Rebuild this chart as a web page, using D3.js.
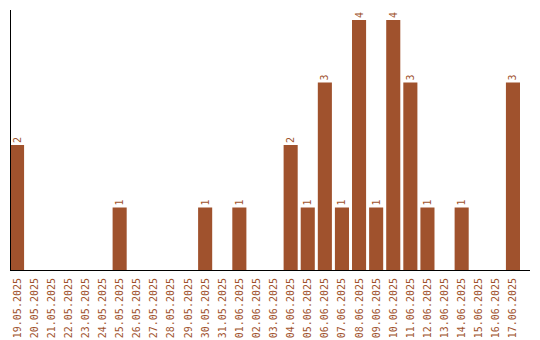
<!DOCTYPE html>
<html>
 <head>
  <meta charset="utf-8">
  <script src="https://d3js.org/d3.v7.min.js"></script>
  <style>
   body { margin: 0; background: #fff; }
   text { font-family: "DejaVu Sans Mono", monospace; font-size: 10px; fill: #a0522d; }
  </style>
 </head>
 <body>
  <div id="chart"></div>
  <script type="text/javascript">
   // dates and counts
   var days = ["19.05.2025","20.05.2025","21.05.2025","22.05.2025","23.05.2025","24.05.2025",
               "25.05.2025","26.05.2025","27.05.2025","28.05.2025","29.05.2025","30.05.2025",
               "31.05.2025","01.06.2025","02.06.2025","03.06.2025","04.06.2025","05.06.2025",
               "06.06.2025","07.06.2025","08.06.2025","09.06.2025","10.06.2025","11.06.2025",
               "12.06.2025","13.06.2025","14.06.2025","15.06.2025","16.06.2025","17.06.2025"];
   var counts = [2,0,0,0,0,0, 1,0,0,0,0,1, 0,1,0,0,2,1, 3,1,4,1,4,3, 1,0,1,0,0,3];

   var svg = d3.select("#chart").append("svg")
     .attr("width", 540).attr("height", 340);

   var x = d3.scaleBand().domain(days).range([10, 520]).paddingInner(3/17).paddingOuter(0).align(0);
   var y = d3.scaleLinear().domain([0, 4]).range([270, 20]);

   var data = days.map(function (d, i) { return {day: d, n: counts[i]}; });

   svg.selectAll("rect.bar")
     .data(data.filter(function (d) { return d.n > 0; }))
     .enter().append("rect")
       .attr("class", "bar")
       .attr("x", function (d) { return x(d.day); })
       .attr("width", x.bandwidth())
       .attr("y", function (d) { return y(d.n); })
       .attr("height", function (d) { return y(0) - y(d.n); })
       .attr("fill", "#a0522d");

   // value labels above bars
   svg.selectAll("text.val")
     .data(data.filter(function (d) { return d.n > 0; }))
     .enter().append("text")
       .attr("class", "val")
       .attr("transform", function (d) {
         return "translate(" + (x(d.day) + x.bandwidth() / 2) + "," + (y(d.n) - 2) + ") rotate(-90)";
       })
       .attr("dy", "0.35em")
       .text(function (d) { return d.n; });

   // date labels
   svg.selectAll("text.day")
     .data(days)
     .enter().append("text")
       .attr("class", "day")
       .attr("text-anchor", "end")
       .attr("transform", function (d) {
         return "translate(" + (x(d) + x.bandwidth() / 2) + ",278) rotate(-90)";
       })
       .attr("dy", "0.35em")
       .text(function (d) { return d; });

   // axis lines
   svg.append("line").attr("x1", 10.5).attr("x2", 10.5).attr("y1", 10).attr("y2", 270)
     .attr("stroke", "#000");
   svg.append("line").attr("x1", 10).attr("x2", 530).attr("y1", 270.5).attr("y2", 270.5)
     .attr("stroke", "#000");
  </script>
 </body>
</html>
